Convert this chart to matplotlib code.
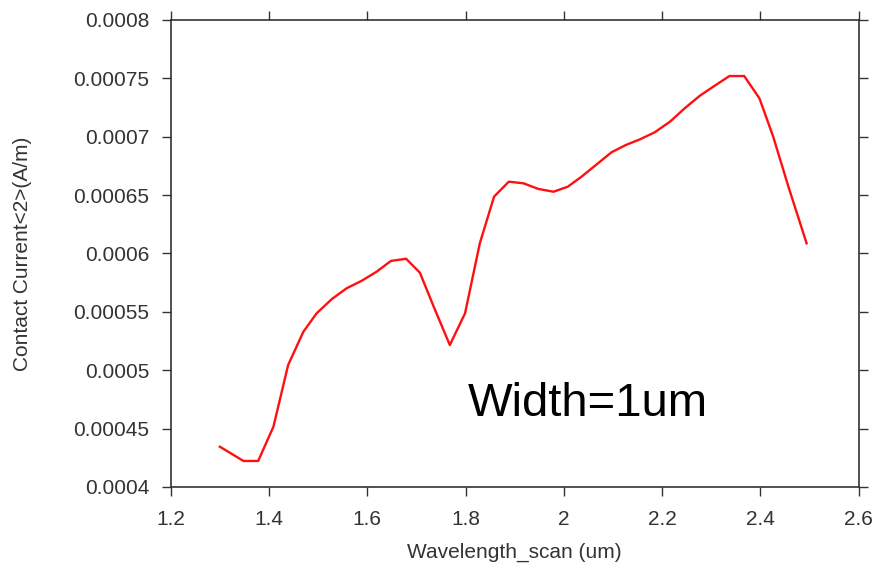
import numpy as np
import matplotlib
matplotlib.use('Agg')
import matplotlib.pyplot as plt

# данные
wavelength = [1.300, 1.348, 1.378, 1.409, 1.439, 1.470, 1.497, 1.528, 1.558, 1.589,
              1.619, 1.648, 1.679, 1.707, 1.738, 1.768, 1.799, 1.829, 1.858, 1.888,
              1.918, 1.948, 1.979, 2.008, 2.036, 2.067, 2.097, 2.126, 2.155, 2.185,
              2.216, 2.246, 2.277, 2.307, 2.337, 2.367, 2.398, 2.426, 2.457, 2.494]
current = [0.0004345, 0.0004223, 0.0004223, 0.0004516, 0.0005045, 0.0005330, 0.0005488,
           0.0005610, 0.0005702, 0.0005767, 0.0005844, 0.0005936, 0.0005955, 0.0005836,
           0.0005516, 0.0005216, 0.0005488, 0.0006087, 0.0006487, 0.0006615, 0.0006601,
           0.0006553, 0.0006529, 0.0006572, 0.0006658, 0.0006764, 0.0006867, 0.0006929,
           0.0006978, 0.0007038, 0.0007129, 0.0007244, 0.0007352, 0.0007437, 0.0007520,
           0.0007520, 0.0007329, 0.0007001, 0.0006572, 0.0006087]

x_ticks = [1.2, 1.4, 1.6, 1.8, 2.0, 2.2, 2.4, 2.6]
x_labels = ['1.2', '1.4', '1.6', '1.8', '2', '2.2', '2.4', '2.6']
y_ticks = [0.0004, 0.00045, 0.0005, 0.00055, 0.0006, 0.00065, 0.0007, 0.00075, 0.0008]
y_labels = ['0.0004', '0.00045', '0.0005', '0.00055', '0.0006', '0.00065', '0.0007',
            '0.00075', '0.0008']

plt.rcParams['font.family'] = ['Liberation Sans', 'DejaVu Sans']

fig = plt.figure(figsize=(8.79, 5.63), dpi=100)
ax = fig.add_axes([0.1942, 0.135, 0.7827, 0.8295])

ax.plot(wavelength, current, color='#ff1010', linewidth=1.7)

ax.set_xlim(1.2, 2.6)
ax.set_ylim(0.0004, 0.0008)
ax.set_xticks(x_ticks)
ax.set_xticklabels(x_labels)
ax.set_yticks(y_ticks)
ax.set_yticklabels(y_labels)

ax.tick_params(direction='out', length=6.5, width=1.0, color='#333333',
               labelsize=15, labelcolor='#333333',
               top=True, right=True, labeltop=False, labelright=False)
ax.tick_params(axis='x', pad=10)
ax.tick_params(axis='y', pad=9)
for s in ax.spines.values():
    s.set_color('#333333')
    s.set_linewidth(1.2)

ax.set_xlabel('Wavelength_scan (um)', fontsize=15, labelpad=10, color='#333333')
ax.set_ylabel('Contact Current<2>(A/m)', fontsize=15, labelpad=30, color='#333333')

ax.text(1.805, 0.0004608, 'Width=1um', fontsize=34, ha='left', va='baseline')

fig.savefig('out.png', dpi=100)
